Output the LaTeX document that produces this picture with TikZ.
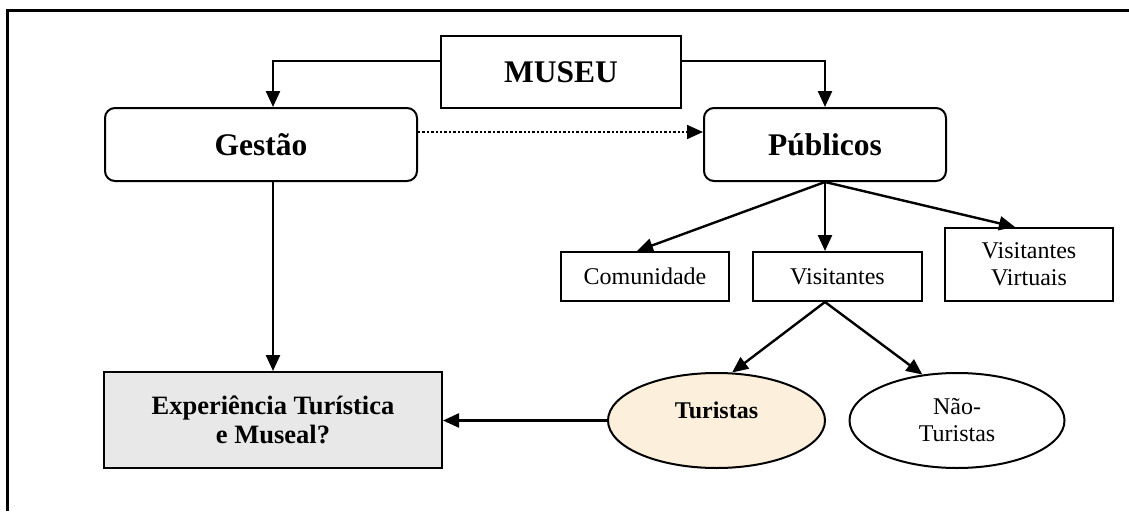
\documentclass[tikz,border=0pt]{standalone}
\usepackage{fontspec}
\setmainfont{Liberation Serif}
\usepackage{tikz}
\usetikzlibrary{arrows.meta}
\usetikzlibrary{shapes.geometric}
\usetikzlibrary{calc}

\definecolor{expgray}{HTML}{E8E8E8}
\definecolor{turcream}{HTML}{FCF0DC}

\begin{document}
\begin{tikzpicture}[x=1pt,y=-1pt,
        box/.style={draw,line width=2pt,inner sep=0pt,align=center},
        rbox/.style={box,rounded corners=10pt},
        oval/.style={draw,ellipse,line width=2pt,inner sep=0pt,align=center},
        conn/.style={line width=2.4pt,-{Triangle[length=16pt,width=14pt]}},
        big/.style={font=\fontsize{31.5}{34}\selectfont\bfseries},
        small/.style={font=\fontsize{24}{27}\selectfont}]
        \useasboundingbox (0,0) rectangle (1129,511);
        % frame
        \draw [line width=3pt] (7,511) -- (7,11) -- (1129,11);
        % top level
        \node [box,big,minimum width=240pt,minimum height=72pt] (museu) at (561,72) {MUSEU};
        \node [rbox,big,minimum width=312pt,minimum height=73pt] (gestao) at (261,144.5) {Gestão};
        \node [rbox,big,minimum width=242pt,minimum height=73pt] (publicos) at (825,144.5) {Públicos};
        % publics
        \node [box,small,minimum width=168pt,minimum height=49pt] (comunidade) at (645,276.5) {Comunidade};
        \node [box,small,minimum width=169pt,minimum height=49pt] (visitantes) at (837.5,276.5) {Visitantes};
        \node [box,small,minimum width=168pt,minimum height=73pt] (virtuais) at (1029,264.5) {Visitantes\\Virtuais};
        % visitors
        \node [oval,fill=turcream,font=\fontsize{24}{27}\selectfont\bfseries,text height=16pt,text depth=20pt,
               minimum width=217pt,minimum height=95pt] (turistas) at (716.5,420.5) {Turistas};
        \node [oval,small,minimum width=215pt,minimum height=95pt] (naoturistas) at (957,420.5) {Não-\\Turistas};
        % experience
        \node [box,fill=expgray,font=\fontsize{26.5}{28.5}\selectfont\bfseries,
               minimum width=338pt,minimum height=96pt] (experiencia) at (273,420) {Experiência Turística\\e Museal?};
        % arrows from museu
        \draw [conn] ($(museu.west)+(0,-11)$) -| (gestao.north -| experiencia.north);
        \draw [conn] ($(museu.east)+(0,-11)$) -| (publicos.north);
        \draw [conn,dotted,line width=1.8pt] ($(gestao.east)+(0,-12.5)$) -- ($(publicos.west)+(0,-12.5)$);
        \draw [conn] (gestao.south -| experiencia.north) -- (experiencia.north);
        % arrows from publicos
        \draw [conn] (publicos.south) -- ($(comunidade.north)+(-8,0)$);
        \draw [conn] (publicos.south) -- (publicos.south |- visitantes.north);
        \draw [conn] (publicos.south) -- ($(virtuais.north)+(-14,0)$);
        % arrows from visitantes
        \coordinate (vfoot) at (publicos.south |- visitantes.south);
        \draw [conn] (vfoot) -- (turistas.72);
        \draw [conn] (vfoot) -- (naoturistas.127);
        \draw [conn] (turistas.west) -- (turistas.west -| experiencia.east);
\end{tikzpicture}
\end{document}
